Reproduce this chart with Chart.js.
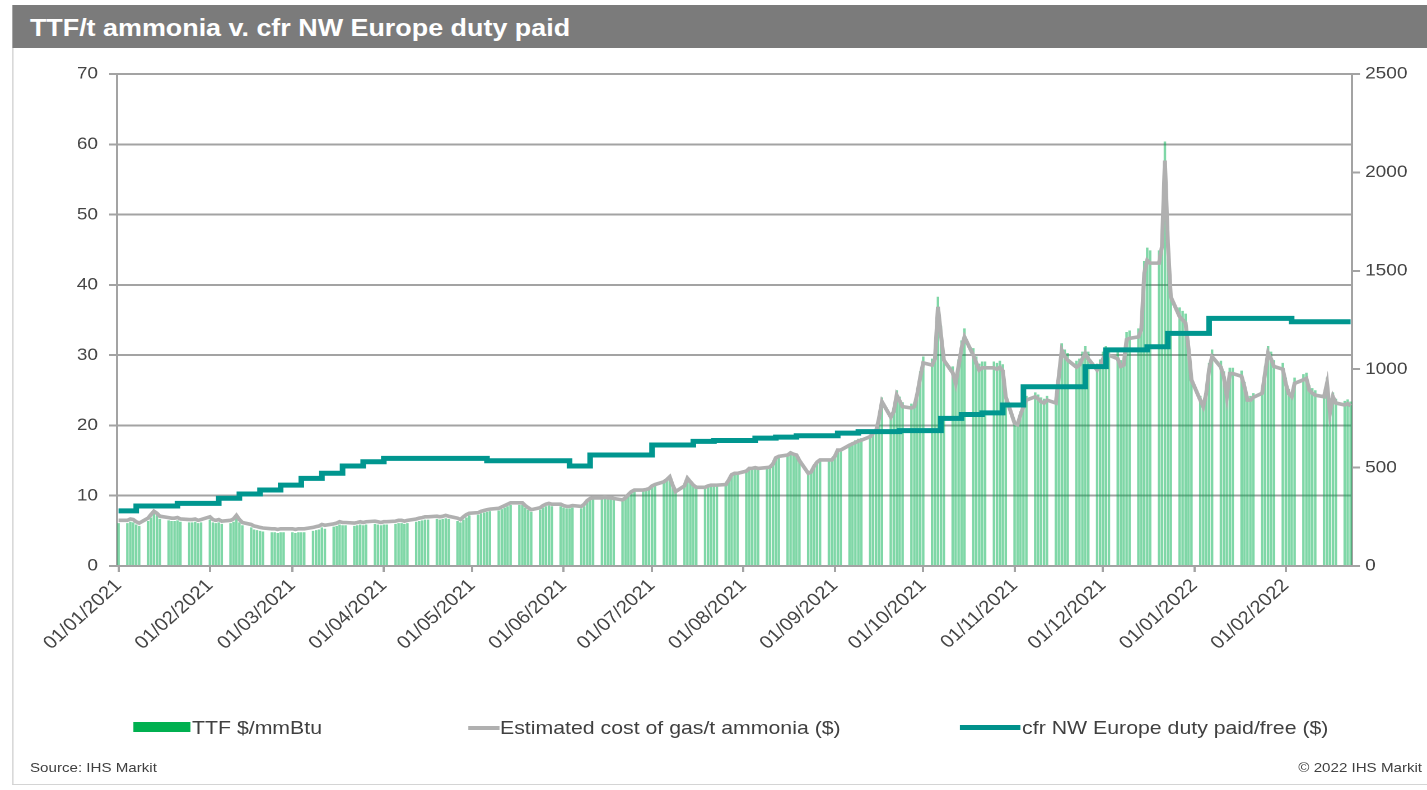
<!DOCTYPE html>
<html>
<head>
<meta charset="utf-8">
<script src="https://cdn.jsdelivr.net/npm/chart.js@4.4.1/dist/chart.umd.min.js"></script>
<style>
html,body{margin:0;padding:0;background:#fff;overflow:hidden;width:1427px;height:790px;}
#page{position:absolute;left:0;top:0;width:1274px;height:790px;transform:scaleX(1.1201);transform-origin:0 0;font-family:"Liberation Sans",Arial,sans-serif;}
#titlebar{position:absolute;left:10.7px;top:5px;width:1264px;height:43px;background:#7b7b7b;}
#title{position:absolute;left:16px;top:0;line-height:45px;color:#fff;font-weight:bold;font-size:24px;white-space:nowrap;}
#frame{position:absolute;left:10.7px;top:48px;width:1264px;height:737px;border-left:1.5px solid #c8c8c8;border-bottom:1.5px solid #d4d4d4;box-sizing:border-box;}
#c{position:absolute;left:0;top:0;}
.leg{position:absolute;top:717px;font-size:19px;color:#404040;line-height:22px;white-space:nowrap;}
.sw{position:absolute;}
#src{position:absolute;left:26.8px;top:760px;font-size:13.5px;color:#404040;white-space:nowrap;}
#copy{position:absolute;right:4.4px;top:760px;font-size:13.5px;color:#404040;white-space:nowrap;}
</style>
</head>
<body>
<div id="page">
  <div id="titlebar"><span id="title">TTF/t ammonia v. cfr NW Europe duty paid</span></div>
  <div id="frame"></div>
  <canvas id="c" width="1274" height="790"></canvas>
  <div class="sw" style="left:118.75px;top:722px;width:51px;height:10px;background:#00b050;"></div>
  <div class="leg" style="left:171.4px;">TTF $/mmBtu</div>
  <div class="sw" style="left:417.9px;top:725.5px;width:28.5px;height:4px;background:#b0b0b0;"></div>
  <div class="leg" style="left:446.4px;">Estimated cost of gas/t ammonia ($)</div>
  <div class="sw" style="left:857px;top:725px;width:53.7px;height:5px;background:#00918b;"></div>
  <div class="leg" style="left:912.5px;">cfr NW Europe duty paid/free ($)</div>
  <div id="src">Source: IHS Markit</div>
  <div id="copy">© 2022 IHS Markit</div>
</div>
<script>
// ---- Data ----
// Month-start tick labels shown on the x axis
const monthTicks = ['01/01/2021','01/02/2021','01/03/2021','01/04/2021','01/05/2021','01/06/2021','01/07/2021','01/08/2021','01/09/2021','01/10/2021','01/11/2021','01/12/2021','01/01/2022','01/02/2022'];
const firstDay = '01/01/2021';
const lastDay = '23/02/2022';

// TTF $/mmBtu, one value per trading day (Mon-Fri) from 01/01/2021
const ttf = [
 6.1,
 6.1,6.3,6.2,5.9,5.7, 6.4,6.9,7.5,7.2,6.7, 6.5,6.4,6.4,6.5,6.3, 6.2,6.2,6.3,6.1,6.2,
 6.6,6.2,6.1,6.2,6.0, 6.1,6.3,6.8,6.2,5.8, 5.5,5.2,5.1,5.0,4.9, 4.8,4.8,4.7,4.8,4.8,
 4.8,4.7,4.8,4.8,4.8, 5.0,5.1,5.2,5.5,5.3, 5.6,5.7,5.9,5.8,5.8, 5.7,5.8,5.9,5.8,5.9,
 6.0,5.9,5.8,5.9,5.9, 6.0,6.1,6.1,6.0,6.1, 6.3,6.4,6.5,6.6,6.6, 6.7,6.6,6.7,6.8,6.7,
 6.4,6.2,6.6,6.9,7.2, 7.3,7.5,7.6,7.7,7.8, 7.9,8.1,8.3,8.5,8.7, 8.7,8.7,8.3,8.0,7.7,
 8.0,8.3,8.5,8.6,8.5, 8.5,8.3,8.2,8.2,8.3, 8.2,8.5,9.1,9.4,9.5, 9.5,9.6,9.5,9.5,9.4,
 9.2,9.5,10.0,10.4,10.7, 10.7,10.8,10.9,11.3,11.5, 11.9,12.2,12.7,11.4,10.4, 11.3,12.5,11.9,11.4,11.1,
 11.1,11.3,11.4,11.4,11.4, 11.5,12.1,13.0,13.2,13.2, 13.5,13.9,13.9,14.0,13.9, 14.0,14.1,14.6,15.5,15.7,
 16.0,16.3,16.1,16.0,15.1, 13.2,13.4,14.3,14.9,15.2, 15.2,15.2,15.7,16.7,16.7, 17.4,17.6,17.9,18.1,18.2,
 18.7,19.2,19.6,21.5,24.0, 21.7,22.5,25.0,24.1,23.3, 23.1,23.3,25.2,27.7,29.8, 29.5,30.5,38.3,34.2,30.3,
 28.4,26.8,29.4,32.1,33.8, 31.0,29.8,28.8,29.1,29.1, 29.1,28.9,29.2,28.7,24.7, 20.7,20.5,22.0,23.3,24.2,
 24.7,24.4,24.0,23.8,24.2, 23.8,27.8,31.7,30.8,30.3, 29.2,29.5,30.5,31.3,30.5, 28.8,29.4,30.5,31.3,31.0,
 30.5,29.3,29.5,33.3,33.5, 33.8,34.8,43.4,45.3,44.9, 44.9,47.4,60.4,48.0,39.8, 36.8,36.3,35.9,32.1,27.3,
 24.2,23.3,25.2,28.9,30.8, 29.2,27.7,24.7,28.2,28.2, 27.8,26.2,24.2,24.2,24.6, 25.3,28.4,31.3,30.5,29.3,
 28.9,26.8,25.2,24.7,26.8, 27.3,27.5,25.7,25.3,25.0, 24.7,26.8,22.3,24.7,23.8, 23.5,23.7,23.4
];

// Estimated cost of gas per tonne of ammonia ($), same trading days
const gasCost = [
 232,
 232,239,236,225,218, 243,261,278,268,253, 246,243,243,246,239, 236,236,239,232,236,
 250,236,232,236,228, 232,239,257,236,221, 211,203,200,196,193, 189,189,186,189,189,
 189,186,189,189,189, 196,200,203,211,207, 214,218,225,221,221, 218,221,225,221,225,
 228,225,221,225,225, 228,232,232,228,232, 239,243,246,250,250, 253,250,253,257,253,
 243,236,250,261,268, 271,278,282,286,289, 293,300,307,314,321, 321,321,307,296,286,
 296,307,314,318,314, 314,307,303,303,307, 303,314,332,343,346, 346,350,346,346,343,
 336,346,364,378,386, 386,389,393,407,414, 428,439,453,411,378, 407,446,428,411,400,
 400,407,411,411,411, 414,436,464,471,471, 482,496,496,500,496, 500,503,518,550,557,
 564,575,568,564,536, 471,478,507,528,539, 539,539,557,589,589, 614,621,628,635,639,
 657,675,685,750,835, 757,785,868,839,810, 803,810,875,960,1032, 1021,1053,1317,1178,1046,
 982,928,1017,1107,1164, 1071,1032,996,1007,1007, 1007,1000,1010,992,860, 725,718,768,810,843,
 860,850,835,828,843, 828,964,1096,1064,1046, 1010,1021,1053,1082,1053, 996,1017,1053,1082,1071,
 1053,1014,1021,1150,1157, 1164,1200,1489,1553,1539, 1539,1624,2060,1642,1367, 1267,1250,1235,1107,946,
 843,810,875,1000,1064, 1010,960,860,978,978, 964,910,843,843,857, 878,982,1082,1053,1014,
 1000,928,875,860,928, 946,953,893,878,868, 860,928,778,860,828, 818,825,814
];

// cfr NW Europe duty paid/free ($): weekly assessments (value changes on these dates)
const cfrDates = ['01/01/2021','07/01/2021','21/01/2021','04/02/2021','11/02/2021','18/02/2021','25/02/2021',
 '04/03/2021','11/03/2021','18/03/2021','25/03/2021','01/04/2021','06/05/2021','03/06/2021','10/06/2021',
 '01/07/2021','15/07/2021','22/07/2021','05/08/2021','12/08/2021','19/08/2021','02/09/2021','09/09/2021',
 '23/09/2021','07/10/2021','14/10/2021','21/10/2021','28/10/2021','04/11/2021','25/11/2021','02/12/2021',
 '16/12/2021','23/12/2021','06/01/2022','03/02/2022','23/02/2022'];
const cfrValues = [280,305,318,344,366,386,411,
 445,471,508,530,547,535,508,564,
 615,633,638,650,655,662,675,683,
 688,750,770,778,818,911,1013,1098,
 1114,1182,1258,1241,1241];

// ---- Build calendar categories ----
function parseD(s){const p=s.split('/');return Date.UTC(+p[2],+p[1]-1,+p[0]);}
function fmt(t){const d=new Date(t);const dd=String(d.getUTCDate()).padStart(2,'0');const mm=String(d.getUTCMonth()+1).padStart(2,'0');return dd+'/'+mm+'/'+d.getUTCFullYear();}
const dates=[];const weekday=[];
for(let t=parseD(firstDay);t<=parseD(lastDay);t+=86400000){dates.push(fmt(t));const w=new Date(t).getUTCDay();weekday.push(w!==0&&w!==6);}
const ttfSeries=[],gasSeries=[];
let k=0;
for(let i=0;i<dates.length;i++){
  if(weekday[i]&&k<ttf.length){ttfSeries.push(ttf[k]);gasSeries.push(gasCost[k]);k++;}
  else{ttfSeries.push(null);gasSeries.push(null);}
}
const cfrSeries=dates.map(()=>null);
cfrDates.forEach((d,j)=>{const i=dates.indexOf(d);if(i>=0)cfrSeries[i]=cfrValues[j];});
const isTick=i=>monthTicks.indexOf(dates[i])>=0;

const FONT='"Liberation Sans", Arial, sans-serif';
const GRID='#a3a3a3';
const TXT='#454545';

new Chart(document.getElementById('c'),{
  data:{labels:dates,datasets:[
    {type:'line',label:'cfr NW Europe duty paid/free ($)',data:cfrSeries,yAxisID:'y2',borderColor:'#00968f',borderWidth:5,pointRadius:0,stepped:true,spanGaps:true,order:0},
    {type:'line',label:'Estimated cost of gas/t ammonia ($)',data:gasSeries,yAxisID:'y2',borderColor:'#b0b0b0',borderWidth:3.6,pointRadius:0,spanGaps:true,tension:0,order:1},
    {type:'bar',label:'TTF $/mmBtu',data:ttfSeries,yAxisID:'y',backgroundColor:'rgba(0,176,80,0.5)',barPercentage:0.85,categoryPercentage:1,order:2}
  ]},
  options:{
    responsive:false,animation:false,devicePixelRatio:2,
    layout:{padding:{top:74,left:0,right:0,bottom:0}},
    plugins:{legend:{display:false},tooltip:{enabled:false}},
    scales:{
      x:{type:'category',offset:true,
        grid:{offset:false,drawOnChartArea:false,drawTicks:true,tickLength:6,color:GRID,lineWidth:c=>isTick(c.index)?2:0},
        border:{display:true,color:GRID,width:2},
        ticks:{autoSkip:false,minRotation:45,maxRotation:45,padding:3,color:TXT,font:{family:FONT,size:18},
          callback:(v,i)=>isTick(i)?dates[i]:''},
        afterFit:s=>{s.height=224;}
      },
      y:{position:'left',min:0,max:70,
        ticks:{stepSize:10,padding:10,color:TXT,font:{family:FONT,size:17},callback:v=>String(v)},
        grid:{color:GRID,lineWidth:2,tickLength:7},
        border:{display:true,color:GRID,width:2},
        afterFit:s=>{s.width=104.5;}
      },
      y2:{position:'right',min:0,max:2500,
        ticks:{stepSize:500,padding:4.6,color:TXT,font:{family:FONT,size:17},callback:v=>String(v)},
        grid:{drawOnChartArea:false,color:GRID,lineWidth:2,tickLength:7},
        border:{display:true,color:GRID,width:2},
        afterFit:s=>{s.width=66.9;}
      }
    }
  }
});
</script>
</body>
</html>
